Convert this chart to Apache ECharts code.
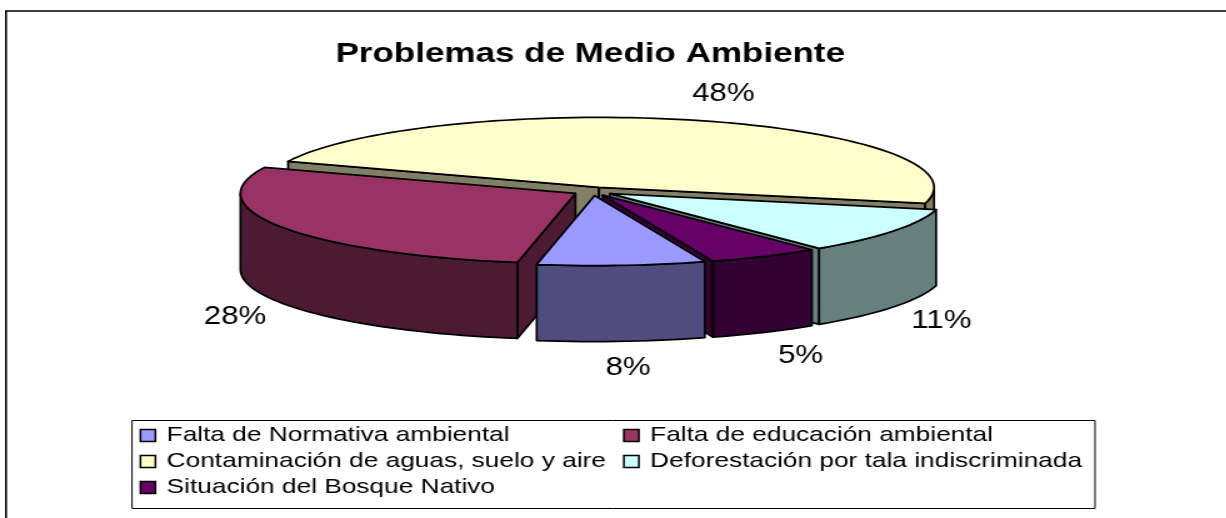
<!DOCTYPE html>
<html>
<head>
<meta charset="utf-8">
<script src="https://cdn.jsdelivr.net/npm/echarts@6/dist/echarts.min.js"></script>
<style>
  html, body { margin: 0; padding: 0; background: #fff; overflow: hidden; }
  /* the reference is stretched sideways, so the chart is too */
  #main { width: 981px; height: 518px; transform: scaleX(1.25); transform-origin: 0 0; }
</style>
</head>
<body>
<div id="main"></div>
<script>
var titleText = 'Problemas de Medio Ambiente';
var categories = [
  'Falta de Normativa ambiental',
  'Falta de educación ambiental',
  'Contaminación de aguas, suelo y aire',
  'Deforestación por tala indiscriminada',
  'Situación del Bosque Nativo'
];
// percentages, decimals (labels are rounded)
var values = [8.1, 28.3, 47.6, 10.6, 5.4];
var colors = ['#9999FF', '#993366', '#FFFFCC', '#CCFFFF', '#660066'];
var wallColors = ['#4D4D80', '#4D1A33', '#808066', '#668080', '#330033'];

var SX = 1.25;
var FONT = '"Liberation Sans", Arial, sans-serif';
var firstAngle = 160.8;
var explode = 0.06;
var CX = 593 / SX, CY = 191.4, RX = 335 / SX, RY = 70, DEPTH = 76;

var total = values.reduce(function(a, b) { return a + b; }, 0);
var slices = [];
var acc = firstAngle;
for (var n = 0; n < values.length; n++) {
  var sweep = values[n] / total * 360;
  slices.push({ from: acc, to: acc + sweep, mid: acc + sweep / 2 });
  acc += sweep;
}

function rad(d) { return d * Math.PI / 180; }

// angle runs clockwise from the top of the ellipse
function rim(ox, oy, a) {
  return [ox + RX * Math.sin(rad(a)), oy - RY * Math.cos(rad(a))];
}

function arcPoints(ox, oy, a0, a1, dy) {
  var pts = [];
  var steps = Math.max(2, Math.ceil((a1 - a0) / 2));
  for (var i = 0; i <= steps; i++) {
    var p = rim(ox, oy, a0 + (a1 - a0) * i / steps);
    pts.push([p[0], p[1] + (dy || 0)]);
  }
  return pts;
}

function renderSlice(idx) {
  var s = slices[idx];
  var ox = CX + explode * RX * Math.sin(rad(s.mid));
  var oy = CY - explode * RY * Math.cos(rad(s.mid));
  var line = { stroke: '#000', lineWidth: 1.7, lineJoin: 'round' };
  var kids = [];
  function poly(pts, fill) {
    kids.push({ type: 'polygon', shape: { points: pts }, style: Object.assign({ fill: fill }, line) });
  }
  function radialWall(a) {
    var p = rim(ox, oy, a);
    poly([[ox, oy], p, [p[0], p[1] + DEPTH], [ox, oy + DEPTH]], wallColors[idx]);
  }
  // radial faces turned to the viewer
  if (Math.sin(rad(s.from)) < 0) radialWall(s.from);
  if (Math.sin(rad(s.to)) > 0) radialWall(s.to);
  // outer wall, front half of the ellipse only
  [-360, 0, 360].forEach(function(k) {
    var a0 = Math.max(s.from, 90 + k), a1 = Math.min(s.to, 270 + k);
    if (a1 > a0) {
      var top = arcPoints(ox, oy, a0, a1, 0);
      var bottom = arcPoints(ox, oy, a0, a1, DEPTH).reverse();
      poly(top.concat(bottom), wallColors[idx]);
    }
  });
  // top face
  poly([[ox, oy]].concat(arcPoints(ox, oy, s.from, s.to, 0)), colors[idx]);
  // percent label
  var c = Math.cos(rad(s.mid));
  var lx = ox + (1.09 + 0.15 * Math.abs(c)) * RX * Math.sin(rad(s.mid));
  var ly = oy - 1.3 * RY * c + (c < 0 ? DEPTH + 6 * Math.abs(c) : -7);
  kids.push({
    type: 'text',
    style: {
      text: Math.round(values[idx] / total * 100) + '%',
      x: lx, y: ly, fill: '#000',
      font: '25px ' + FONT,
      textAlign: 'center', textVerticalAlign: 'middle'
    }
  });
  return { type: 'group', children: kids };
}

var myChart = echarts.init(document.getElementById('main'));

var seriesList = categories.map(function(name, i) {
  return {
    name: name,
    type: 'custom',
    coordinateSystem: 'none',
    silent: true,
    z: 10 - Math.cos(rad(slices[i].mid)),
    itemStyle: { color: colors[i] },
    data: [values[i]],
    renderItem: function() { return renderSlice(i); }
  };
});

myChart.setOption({
  animation: false,
  backgroundColor: '#fff',
  title: {
    text: titleText,
    left: 584 / SX,
    top: 35,
    textAlign: 'center',
    textStyle: { fontFamily: FONT, fontWeight: 'bold', fontSize: 28, color: '#000' }
  },
  legend: {
    left: 132 / SX,
    top: 420,
    width: 775,
    padding: [5, 0, 8, 6],
    itemGap: 5,
    itemWidth: 12,
    itemHeight: 12,
    itemStyle: { borderColor: '#000', borderWidth: 1.5 },
    formatter: function(name) { return '{a|' + name + '}'; },
    textStyle: {
      fontFamily: FONT, fontSize: 21, color: '#000',
      rich: { a: { fontFamily: FONT, fontSize: 21, color: '#000', width: 360, lineHeight: 20, padding: [0, 0, 0, 4] } }
    },
    selectedMode: false,
    icon: 'rect',
    data: categories.map(function(name, i) {
      return { name: name, itemStyle: { color: colors[i] } };
    })
  },
  graphic: [{
    type: 'polyline',
    silent: true,
    shape: { points: [[6 / SX, 530], [6 / SX, 11], [990, 11]] },
    style: { stroke: '#000', lineWidth: 1.6, fill: null }
  }, {
    // legend frame
    type: 'rect',
    silent: true,
    shape: { x: 132 / SX, y: 420.5, width: 963 / SX, height: 88 },
    style: { stroke: '#000', lineWidth: 1, fill: null }
  }],
  series: seriesList
});
</script>
</body>
</html>
